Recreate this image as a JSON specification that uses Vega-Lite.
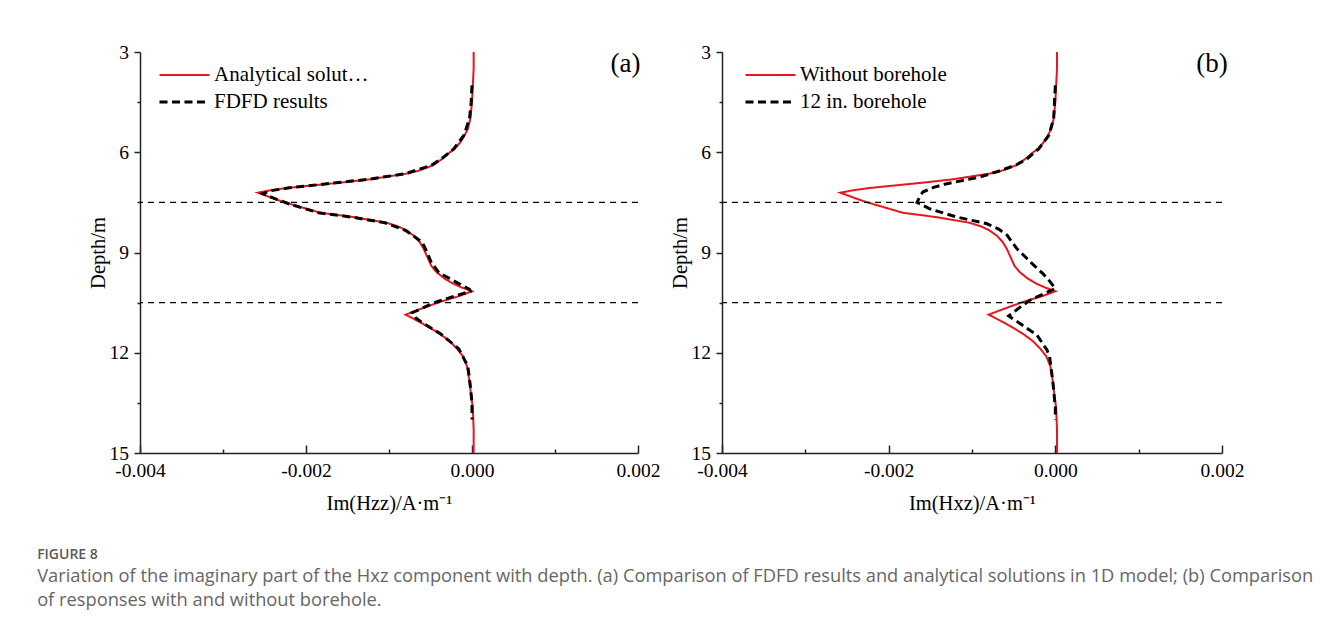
{
  "$schema": "https://vega.github.io/schema/vega-lite/v6.json",
  "padding": {"left": 37, "top": 42, "right": 5, "bottom": 5},
  "background": "white",
  "config": {
    "view": {"stroke": null},
    "locale": {"number": {"decimal": ".", "thousands": ",", "grouping": [3], "currency": ["$", ""], "minus": "-"}},
    "axis": {
      "grid": false,
      "domainColor": "#222222",
      "domainWidth": 1.5,
      "tickColor": "#222222",
      "tickWidth": 1.5,
      "labelFont": "Liberation Serif",
      "labelFontSize": 19.5,
      "labelColor": "black",
      "titleFont": "Liberation Serif",
      "titleFontSize": 20.5,
      "titleFontWeight": "normal",
      "titleColor": "black",
      "labelFlush": false,
      "labelOverlap": false
    },
    "legend": {
      "orient": "none",
      "title": null,
      "padding": 0,
      "labelFont": "Liberation Serif",
      "labelFontSize": 21,
      "labelColor": "black",
      "symbolType": "M-5,0H5",
      "symbolSize": 100,
      "rowPadding": 5,
      "labelOffset": 19
    }
  },
  "title": {
    "text": "FIGURE 8",
    "subtitle": [
      "Variation of the imaginary part of the Hxz component with depth. (a) Comparison of FDFD results and analytical solutions in 1D model; (b) Comparison",
      "of responses with and without borehole."
    ],
    "orient": "bottom",
    "anchor": "start",
    "frame": "bounds",
    "dx": -51,
    "offset": 34,
    "font": "Open Sans",
    "fontSize": 14,
    "fontWeight": 600,
    "color": "#595959",
    "subtitleFont": "Open Sans",
    "subtitleFontSize": 18.3,
    "subtitleColor": "#666666",
    "subtitleLineHeight": 24,
    "subtitlePadding": 6
  },
  "datasets": {
    "a": [
      {"series": "Analytical solutions", "depth": 3.0, "value": 0.00002},
      {"series": "Analytical solutions", "depth": 3.5, "value": 0.00002},
      {"series": "Analytical solutions", "depth": 4.0, "value": 0.00001},
      {"series": "Analytical solutions", "depth": 4.5, "value": 0.0},
      {"series": "Analytical solutions", "depth": 5.0, "value": -0.00002},
      {"series": "Analytical solutions", "depth": 5.3, "value": -0.00005},
      {"series": "Analytical solutions", "depth": 5.5, "value": -0.00009},
      {"series": "Analytical solutions", "depth": 5.7, "value": -0.00014},
      {"series": "Analytical solutions", "depth": 5.9, "value": -0.00021},
      {"series": "Analytical solutions", "depth": 6.0, "value": -0.000265},
      {"series": "Analytical solutions", "depth": 6.2, "value": -0.00036},
      {"series": "Analytical solutions", "depth": 6.39, "value": -0.00047},
      {"series": "Analytical solutions", "depth": 6.55, "value": -0.00064},
      {"series": "Analytical solutions", "depth": 6.64, "value": -0.00079},
      {"series": "Analytical solutions", "depth": 6.72, "value": -0.001},
      {"series": "Analytical solutions", "depth": 6.81, "value": -0.00123},
      {"series": "Analytical solutions", "depth": 6.9, "value": -0.00155},
      {"series": "Analytical solutions", "depth": 6.97, "value": -0.00183},
      {"series": "Analytical solutions", "depth": 7.07, "value": -0.00223},
      {"series": "Analytical solutions", "depth": 7.14, "value": -0.00243},
      {"series": "Analytical solutions", "depth": 7.21, "value": -0.00258},
      {"series": "Analytical solutions", "depth": 7.35, "value": -0.00243},
      {"series": "Analytical solutions", "depth": 7.49, "value": -0.00227},
      {"series": "Analytical solutions", "depth": 7.65, "value": -0.00205},
      {"series": "Analytical solutions", "depth": 7.81, "value": -0.00183},
      {"series": "Analytical solutions", "depth": 7.94, "value": -0.00143},
      {"series": "Analytical solutions", "depth": 8.11, "value": -0.00103},
      {"series": "Analytical solutions", "depth": 8.22, "value": -0.00089},
      {"series": "Analytical solutions", "depth": 8.34, "value": -0.00079},
      {"series": "Analytical solutions", "depth": 8.5, "value": -0.0007},
      {"series": "Analytical solutions", "depth": 8.69, "value": -0.00063},
      {"series": "Analytical solutions", "depth": 8.9, "value": -0.00058},
      {"series": "Analytical solutions", "depth": 9.18, "value": -0.00053},
      {"series": "Analytical solutions", "depth": 9.4, "value": -0.00049},
      {"series": "Analytical solutions", "depth": 9.58, "value": -0.00043},
      {"series": "Analytical solutions", "depth": 9.78, "value": -0.00033},
      {"series": "Analytical solutions", "depth": 9.93, "value": -0.00023},
      {"series": "Analytical solutions", "depth": 10.05, "value": -0.00012},
      {"series": "Analytical solutions", "depth": 10.16, "value": 0.0},
      {"series": "Analytical solutions", "depth": 10.3, "value": -0.00015},
      {"series": "Analytical solutions", "depth": 10.48, "value": -0.00039},
      {"series": "Analytical solutions", "depth": 10.7, "value": -0.00063},
      {"series": "Analytical solutions", "depth": 10.86, "value": -0.0008},
      {"series": "Analytical solutions", "depth": 10.95, "value": -0.00073},
      {"series": "Analytical solutions", "depth": 11.08, "value": -0.00063},
      {"series": "Analytical solutions", "depth": 11.25, "value": -0.00051},
      {"series": "Analytical solutions", "depth": 11.43, "value": -0.00039},
      {"series": "Analytical solutions", "depth": 11.65, "value": -0.00027},
      {"series": "Analytical solutions", "depth": 11.88, "value": -0.00018},
      {"series": "Analytical solutions", "depth": 12.1, "value": -0.00011},
      {"series": "Analytical solutions", "depth": 12.4, "value": -0.00006},
      {"series": "Analytical solutions", "depth": 12.86, "value": -0.00003},
      {"series": "Analytical solutions", "depth": 13.3, "value": -0.00001},
      {"series": "Analytical solutions", "depth": 13.65, "value": 0.00001},
      {"series": "Analytical solutions", "depth": 14.3, "value": 0.00002},
      {"series": "Analytical solutions", "depth": 15.0, "value": 0.00002},
      {"series": "FDFD results", "depth": 4.0, "value": 0.0},
      {"series": "FDFD results", "depth": 4.5, "value": -0.00001},
      {"series": "FDFD results", "depth": 5.0, "value": -0.00003},
      {"series": "FDFD results", "depth": 5.5, "value": -0.0001},
      {"series": "FDFD results", "depth": 5.9, "value": -0.00022},
      {"series": "FDFD results", "depth": 6.2, "value": -0.00037},
      {"series": "FDFD results", "depth": 6.39, "value": -0.00049},
      {"series": "FDFD results", "depth": 6.64, "value": -0.0008},
      {"series": "FDFD results", "depth": 6.81, "value": -0.00125},
      {"series": "FDFD results", "depth": 6.97, "value": -0.00185},
      {"series": "FDFD results", "depth": 7.07, "value": -0.00222},
      {"series": "FDFD results", "depth": 7.15, "value": -0.00242},
      {"series": "FDFD results", "depth": 7.24, "value": -0.00252},
      {"series": "FDFD results", "depth": 7.4, "value": -0.00236},
      {"series": "FDFD results", "depth": 7.55, "value": -0.0022},
      {"series": "FDFD results", "depth": 7.81, "value": -0.00185},
      {"series": "FDFD results", "depth": 7.94, "value": -0.00145},
      {"series": "FDFD results", "depth": 8.11, "value": -0.00105},
      {"series": "FDFD results", "depth": 8.34, "value": -0.0008},
      {"series": "FDFD results", "depth": 8.69, "value": -0.0006},
      {"series": "FDFD results", "depth": 9.0, "value": -0.00054},
      {"series": "FDFD results", "depth": 9.3, "value": -0.00049},
      {"series": "FDFD results", "depth": 9.6, "value": -0.0004},
      {"series": "FDFD results", "depth": 9.93, "value": -0.00016},
      {"series": "FDFD results", "depth": 10.1, "value": -0.00003},
      {"series": "FDFD results", "depth": 10.16, "value": -0.00002},
      {"series": "FDFD results", "depth": 10.48, "value": -0.00043},
      {"series": "FDFD results", "depth": 10.8, "value": -0.00072},
      {"series": "FDFD results", "depth": 10.95, "value": -0.00068},
      {"series": "FDFD results", "depth": 11.1, "value": -0.0006},
      {"series": "FDFD results", "depth": 11.43, "value": -0.00038},
      {"series": "FDFD results", "depth": 11.88, "value": -0.00016},
      {"series": "FDFD results", "depth": 12.4, "value": -0.00005},
      {"series": "FDFD results", "depth": 13.0, "value": -0.00002},
      {"series": "FDFD results", "depth": 13.5, "value": 0.0},
      {"series": "FDFD results", "depth": 14.0, "value": 0.0}
    ],
    "b": [
      {"series": "Without borehole", "depth": 3.0, "value": 0.00002},
      {"series": "Without borehole", "depth": 3.5, "value": 0.00002},
      {"series": "Without borehole", "depth": 4.0, "value": 0.00001},
      {"series": "Without borehole", "depth": 4.5, "value": 0.0},
      {"series": "Without borehole", "depth": 5.0, "value": -0.00002},
      {"series": "Without borehole", "depth": 5.3, "value": -0.00005},
      {"series": "Without borehole", "depth": 5.5, "value": -0.00009},
      {"series": "Without borehole", "depth": 5.7, "value": -0.00014},
      {"series": "Without borehole", "depth": 5.9, "value": -0.00021},
      {"series": "Without borehole", "depth": 6.0, "value": -0.000265},
      {"series": "Without borehole", "depth": 6.2, "value": -0.00036},
      {"series": "Without borehole", "depth": 6.39, "value": -0.00047},
      {"series": "Without borehole", "depth": 6.55, "value": -0.00064},
      {"series": "Without borehole", "depth": 6.64, "value": -0.00079},
      {"series": "Without borehole", "depth": 6.72, "value": -0.001},
      {"series": "Without borehole", "depth": 6.81, "value": -0.00123},
      {"series": "Without borehole", "depth": 6.9, "value": -0.00155},
      {"series": "Without borehole", "depth": 6.97, "value": -0.00183},
      {"series": "Without borehole", "depth": 7.07, "value": -0.00223},
      {"series": "Without borehole", "depth": 7.14, "value": -0.00243},
      {"series": "Without borehole", "depth": 7.21, "value": -0.00258},
      {"series": "Without borehole", "depth": 7.35, "value": -0.00243},
      {"series": "Without borehole", "depth": 7.49, "value": -0.00227},
      {"series": "Without borehole", "depth": 7.65, "value": -0.00205},
      {"series": "Without borehole", "depth": 7.81, "value": -0.00183},
      {"series": "Without borehole", "depth": 7.94, "value": -0.00143},
      {"series": "Without borehole", "depth": 8.11, "value": -0.00103},
      {"series": "Without borehole", "depth": 8.22, "value": -0.00089},
      {"series": "Without borehole", "depth": 8.34, "value": -0.00079},
      {"series": "Without borehole", "depth": 8.5, "value": -0.0007},
      {"series": "Without borehole", "depth": 8.69, "value": -0.00063},
      {"series": "Without borehole", "depth": 8.9, "value": -0.00058},
      {"series": "Without borehole", "depth": 9.18, "value": -0.00053},
      {"series": "Without borehole", "depth": 9.4, "value": -0.00049},
      {"series": "Without borehole", "depth": 9.58, "value": -0.00043},
      {"series": "Without borehole", "depth": 9.78, "value": -0.00033},
      {"series": "Without borehole", "depth": 9.93, "value": -0.00023},
      {"series": "Without borehole", "depth": 10.05, "value": -0.00012},
      {"series": "Without borehole", "depth": 10.16, "value": 0.0},
      {"series": "Without borehole", "depth": 10.3, "value": -0.00015},
      {"series": "Without borehole", "depth": 10.48, "value": -0.00039},
      {"series": "Without borehole", "depth": 10.7, "value": -0.00063},
      {"series": "Without borehole", "depth": 10.86, "value": -0.0008},
      {"series": "Without borehole", "depth": 10.95, "value": -0.00073},
      {"series": "Without borehole", "depth": 11.08, "value": -0.00063},
      {"series": "Without borehole", "depth": 11.25, "value": -0.00051},
      {"series": "Without borehole", "depth": 11.43, "value": -0.00039},
      {"series": "Without borehole", "depth": 11.65, "value": -0.00027},
      {"series": "Without borehole", "depth": 11.88, "value": -0.00018},
      {"series": "Without borehole", "depth": 12.1, "value": -0.00011},
      {"series": "Without borehole", "depth": 12.4, "value": -0.00006},
      {"series": "Without borehole", "depth": 12.86, "value": -0.00003},
      {"series": "Without borehole", "depth": 13.3, "value": -0.00001},
      {"series": "Without borehole", "depth": 13.65, "value": 0.00001},
      {"series": "Without borehole", "depth": 14.3, "value": 0.00002},
      {"series": "Without borehole", "depth": 15.0, "value": 0.00002},
      {"series": "12 in. borehole", "depth": 4.0, "value": 0.0},
      {"series": "12 in. borehole", "depth": 4.5, "value": -0.00001},
      {"series": "12 in. borehole", "depth": 5.0, "value": -0.00002},
      {"series": "12 in. borehole", "depth": 5.5, "value": -0.00008},
      {"series": "12 in. borehole", "depth": 5.9, "value": -0.0002},
      {"series": "12 in. borehole", "depth": 6.0, "value": -0.00025},
      {"series": "12 in. borehole", "depth": 6.2, "value": -0.00034},
      {"series": "12 in. borehole", "depth": 6.38, "value": -0.00047},
      {"series": "12 in. borehole", "depth": 6.55, "value": -0.00066},
      {"series": "12 in. borehole", "depth": 6.74, "value": -0.0009},
      {"series": "12 in. borehole", "depth": 6.94, "value": -0.0013},
      {"series": "12 in. borehole", "depth": 7.05, "value": -0.00146},
      {"series": "12 in. borehole", "depth": 7.19, "value": -0.00159},
      {"series": "12 in. borehole", "depth": 7.35, "value": -0.00163},
      {"series": "12 in. borehole", "depth": 7.5, "value": -0.00166},
      {"series": "12 in. borehole", "depth": 7.6, "value": -0.00158},
      {"series": "12 in. borehole", "depth": 7.7, "value": -0.0015},
      {"series": "12 in. borehole", "depth": 7.94, "value": -0.00118},
      {"series": "12 in. borehole", "depth": 8.14, "value": -0.00082},
      {"series": "12 in. borehole", "depth": 8.3, "value": -0.00068},
      {"series": "12 in. borehole", "depth": 8.48, "value": -0.00058},
      {"series": "12 in. borehole", "depth": 8.89, "value": -0.00046},
      {"series": "12 in. borehole", "depth": 9.18, "value": -0.00034},
      {"series": "12 in. borehole", "depth": 9.4, "value": -0.00025},
      {"series": "12 in. borehole", "depth": 9.63, "value": -0.00015},
      {"series": "12 in. borehole", "depth": 9.85, "value": -0.00007},
      {"series": "12 in. borehole", "depth": 10.08, "value": 0.0},
      {"series": "12 in. borehole", "depth": 10.25, "value": -0.00015},
      {"series": "12 in. borehole", "depth": 10.42, "value": -0.0003},
      {"series": "12 in. borehole", "depth": 10.65, "value": -0.00043},
      {"series": "12 in. borehole", "depth": 10.9, "value": -0.00056},
      {"series": "12 in. borehole", "depth": 11.13, "value": -0.00042},
      {"series": "12 in. borehole", "depth": 11.47, "value": -0.00022},
      {"series": "12 in. borehole", "depth": 11.92, "value": -0.0001},
      {"series": "12 in. borehole", "depth": 12.1, "value": -0.00007},
      {"series": "12 in. borehole", "depth": 12.86, "value": -0.00003},
      {"series": "12 in. borehole", "depth": 13.65, "value": 0.0},
      {"series": "12 in. borehole", "depth": 14.0, "value": 0.0}
    ],
    "interfaces": [{"depth": 7.5}, {"depth": 10.5}]
  },
  "bounds": "flush",
  "spacing": 84,
  "resolve": {
    "scale": {"color": "independent", "strokeDash": "independent", "strokeWidth": "independent", "x": "independent", "y": "independent"},
    "legend": {"color": "independent", "strokeDash": "independent", "strokeWidth": "independent"}
  },
  "hconcat": [
    {
      "width": 498,
      "height": 401,
      "layer": [
        {
          "data": {"name": "a"},
          "mark": {"type": "line", "interpolate": "linear"},
          "encoding": {
            "x": {
              "field": "value",
              "type": "quantitative",
              "scale": {"domain": [-0.004, 0.002], "nice": false, "zero": false},
              "axis": {
                "title": "Im(Hzz)/A·m⁻¹",
                "values": [-0.004, -0.003, -0.002, -0.001, 0, 0.001, 0.002],
                "format": ".3f",
                "labelColor": {"condition": {"test": "round(datum.value*1000) % 2 != 0", "value": "transparent"}, "value": "black"},
                "tickSize": {"condition": {"test": "round(datum.value*1000) % 2 == 0", "value": -8}, "value": -4},
                "labelFont": "Liberation Serif",
                "labelFontSize": 19.5,
                "labelPadding": 16,
                "titlePadding": 9.5
              }
            },
            "y": {
              "field": "depth",
              "type": "quantitative",
              "scale": {"domain": [3, 15], "reverse": true, "nice": false, "zero": false},
              "axis": {
                "title": "Depth/m",
                "values": [3, 4.5, 6, 7.5, 9, 10.5, 12, 13.5, 15],
                "format": "~g",
                "labelColor": {"condition": {"test": "datum.value % 3 != 0", "value": "transparent"}, "value": "black"},
                "tickSize": {"condition": {"test": "datum.value % 3 == 0", "value": 6}, "value": 3},
                "labelFont": "Liberation Serif",
                "labelFontSize": 19.5,
                "labelPadding": 5.5,
                "titlePadding": -1
              }
            },
            "order": {"field": "depth", "type": "quantitative"},
            "color": {
              "field": "series", "type": "nominal",
              "scale": {"domain": ["Analytical solutions", "FDFD results"], "range": ["#e8161e", "#000000"]},
              "legend": {"legendX": 34, "legendY": 12.5}
            },
            "strokeDash": {
              "field": "series", "type": "nominal",
              "scale": {"domain": ["Analytical solutions", "FDFD results"], "range": [[1, 0], [8, 4.5]]},
              "legend": {"legendX": 34, "legendY": 12.5}
            },
            "strokeWidth": {
              "field": "series", "type": "nominal",
              "scale": {"domain": ["Analytical solutions", "FDFD results"], "range": [2, 3]},
              "legend": {"legendX": 34, "legendY": 12.5}
            }
          }
        },
        {
          "data": {"name": "interfaces"},
          "mark": {"type": "rule", "color": "black", "strokeDash": [6, 5], "strokeWidth": 1.3},
          "encoding": {"y": {"field": "depth", "type": "quantitative"}}
        },
        {
          "data": {"values": [{"label": "(a)"}]},
          "mark": {"type": "text", "font": "Liberation Serif", "fontSize": 27, "color": "black", "align": "center", "baseline": "middle"},
          "encoding": {
            "x": {"datum": 0.00185, "type": "quantitative"},
            "y": {"datum": 3.36, "type": "quantitative"},
            "text": {"field": "label"}
          }
        }
      ]
    },
    {
      "width": 500,
      "height": 401,
      "layer": [
        {
          "data": {"name": "b"},
          "mark": {"type": "line", "interpolate": "linear"},
          "encoding": {
            "x": {
              "field": "value",
              "type": "quantitative",
              "scale": {"domain": [-0.004, 0.002], "nice": false, "zero": false},
              "axis": {
                "title": "Im(Hxz)/A·m⁻¹",
                "values": [-0.004, -0.003, -0.002, -0.001, 0, 0.001, 0.002],
                "format": ".3f",
                "labelColor": {"condition": {"test": "round(datum.value*1000) % 2 != 0", "value": "transparent"}, "value": "black"},
                "tickSize": {"condition": {"test": "round(datum.value*1000) % 2 == 0", "value": -8}, "value": -4},
                "labelFont": "Liberation Serif",
                "labelFontSize": 19.5,
                "labelPadding": 16,
                "titlePadding": 9.5
              }
            },
            "y": {
              "field": "depth",
              "type": "quantitative",
              "scale": {"domain": [3, 15], "reverse": true, "nice": false, "zero": false},
              "axis": {
                "title": "Depth/m",
                "values": [3, 4.5, 6, 7.5, 9, 10.5, 12, 13.5, 15],
                "format": "~g",
                "labelColor": {"condition": {"test": "datum.value % 3 != 0", "value": "transparent"}, "value": "black"},
                "tickSize": {"condition": {"test": "datum.value % 3 == 0", "value": 6}, "value": 3},
                "labelFont": "Liberation Serif",
                "labelFontSize": 19.5,
                "labelPadding": 5.5,
                "titlePadding": -1
              }
            },
            "order": {"field": "depth", "type": "quantitative"},
            "color": {
              "field": "series", "type": "nominal",
              "scale": {"domain": ["Without borehole", "12 in. borehole"], "range": ["#e8161e", "#000000"]},
              "legend": {"legendX": 38, "legendY": 12.5}
            },
            "strokeDash": {
              "field": "series", "type": "nominal",
              "scale": {"domain": ["Without borehole", "12 in. borehole"], "range": [[1, 0], [8, 4.5]]},
              "legend": {"legendX": 38, "legendY": 12.5}
            },
            "strokeWidth": {
              "field": "series", "type": "nominal",
              "scale": {"domain": ["Without borehole", "12 in. borehole"], "range": [2, 3]},
              "legend": {"legendX": 38, "legendY": 12.5}
            }
          }
        },
        {
          "data": {"name": "interfaces"},
          "mark": {"type": "rule", "color": "black", "strokeDash": [6, 5], "strokeWidth": 1.3},
          "encoding": {"y": {"field": "depth", "type": "quantitative"}}
        },
        {
          "data": {"values": [{"label": "(b)"}]},
          "mark": {"type": "text", "font": "Liberation Serif", "fontSize": 27, "color": "black", "align": "center", "baseline": "middle"},
          "encoding": {
            "x": {"datum": 0.00188, "type": "quantitative"},
            "y": {"datum": 3.36, "type": "quantitative"},
            "text": {"field": "label"}
          }
        }
      ]
    }
  ]
}
